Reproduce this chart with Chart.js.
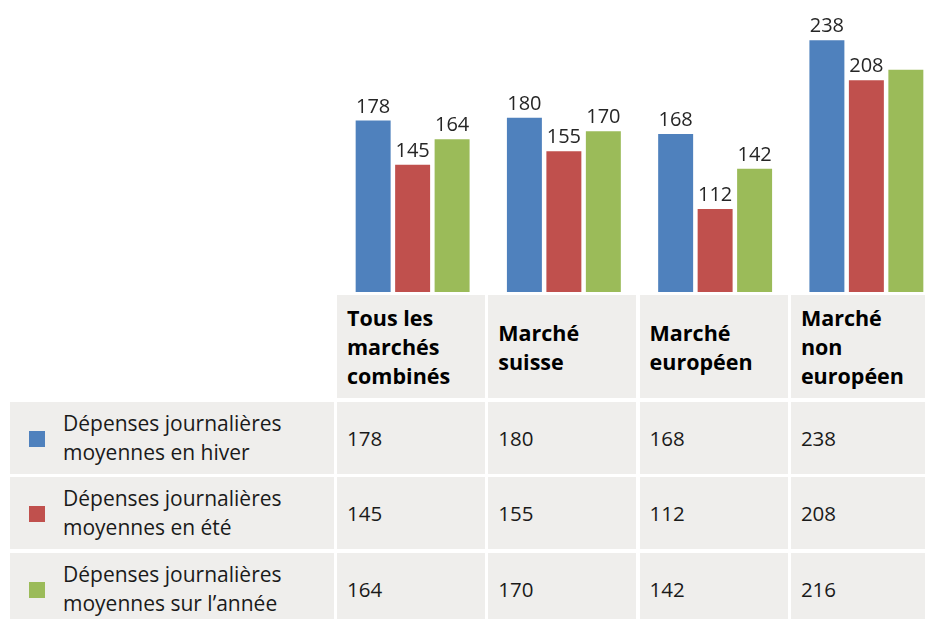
<!DOCTYPE html>
<html>
<head>
<meta charset="utf-8">
<script src="https://cdn.jsdelivr.net/npm/chart.js@4"></script>
<style>
  html, body { margin: 0; padding: 0; background: #ffffff; }
  body { width: 925px; height: 619px; overflow: hidden; position: relative; font-family: "Open Sans", "Noto Sans", sans-serif; }
  #chartBox { position: absolute; left: 337px; top: 0; width: 605px; height: 292px; }
  .cell { position: absolute; background: #efeeec; box-sizing: border-box; display: flex; align-items: center; color: #1a1a1a; }
  .head { font-weight: bold; color: #000; font-size: 21.5px; line-height: 29px; padding-left: 10px; }
  .num { font-size: 20.5px; padding-left: 10px; }
  .lab { font-size: 21px; line-height: 29px; padding-left: 53px; }
  .sw { position: absolute; left: 19px; width: 16px; height: 16px; }
</style>
</head>
<body>
<div id="chartBox"><canvas id="c"></canvas></div>
<div id="table"></div>
<script>
// ---- data ----
const categories = [
  ["Tous les", "marchés", "combinés"],
  ["Marché", "suisse"],
  ["Marché", "européen"],
  ["Marché", "non", "européen"]
];
const seriesNames = [
  ["Dépenses journalières", "moyennes en hiver"],
  ["Dépenses journalières", "moyennes en été"],
  ["Dépenses journalières", "moyennes sur l’année"]
];
const winter = [178, 180, 168, 238];
const summer = [145, 155, 112, 208];
const annual = [164, 170, 142, 216];
const seriesColors = ["#4f81bd", "#c0504d", "#9bbb59"];
const allSeries = [winter, summer, annual];

// ---- chart ----
const valueLabels = {
  id: 'valueLabels',
  afterDatasetsDraw(chart) {
    const ctx = chart.ctx;
    ctx.save();
    ctx.font = '20px "Open Sans", "Noto Sans", sans-serif';
    ctx.fillStyle = '#262626';
    ctx.textAlign = 'center';
    ctx.textBaseline = 'alphabetic';
    const visibleRight = 925 - 337 - 4; // visible page width inside canvas
    chart.data.datasets.forEach((ds, di) => {
      const meta = chart.getDatasetMeta(di);
      meta.data.forEach((bar, i) => {
        const txt = String(ds.data[i]);
        const w = ctx.measureText(txt).width;
        if (bar.x + w / 2 > visibleRight) return; // would be cut off at page edge
        ctx.fillText(txt, bar.x, bar.y - 8);
      });
    });
    ctx.restore();
  }
};

new Chart(document.getElementById('c'), {
  type: 'bar',
  data: {
    labels: categories.map(l => l.join(' ')),
    datasets: allSeries.map((d, i) => ({
      label: seriesNames[i].join(' '),
      data: d,
      backgroundColor: seriesColors[i],
      borderWidth: 0,
      barPercentage: 0.886,
      categoryPercentage: 0.783
    }))
  },
  options: {
    responsive: true,
    maintainAspectRatio: false,
    animation: false,
    layout: { padding: 0 },
    plugins: { legend: { display: false }, tooltip: { enabled: false } },
    scales: {
      x: { display: false },
      y: { display: false, min: 50, max: 268 }
    }
  },
  plugins: [valueLabels]
});

// ---- table ----
const tbl = document.getElementById('table');
function cell(x, y, w, h, cls, html) {
  const d = document.createElement('div');
  d.className = 'cell ' + cls;
  d.style.left = x + 'px'; d.style.top = y + 'px';
  d.style.width = w + 'px'; d.style.height = h + 'px';
  d.innerHTML = html;
  tbl.appendChild(d);
  return d;
}
const colX = i => 337 + i * 151.3;
const colW = 148;
categories.forEach((lines, i) => {
  cell(colX(i), 295, colW, 103, 'head', '<div>' + lines.join('<br>') + '</div>');
});
const rowY = [402, 477, 553];
const rowH = 72;
seriesNames.forEach((lines, r) => {
  const lc = cell(10, rowY[r], 324, rowH, 'lab', '<div>' + lines.join('<br>') + '</div>');
  const sw = document.createElement('div');
  sw.className = 'sw';
  sw.style.background = seriesColors[r];
  sw.style.top = (rowH / 2 - 7) + 'px';
  lc.appendChild(sw);
  allSeries[r].forEach((v, i) => {
    cell(colX(i), rowY[r], colW, rowH, 'num', String(v));
  });
});
</script>
</body>
</html>
